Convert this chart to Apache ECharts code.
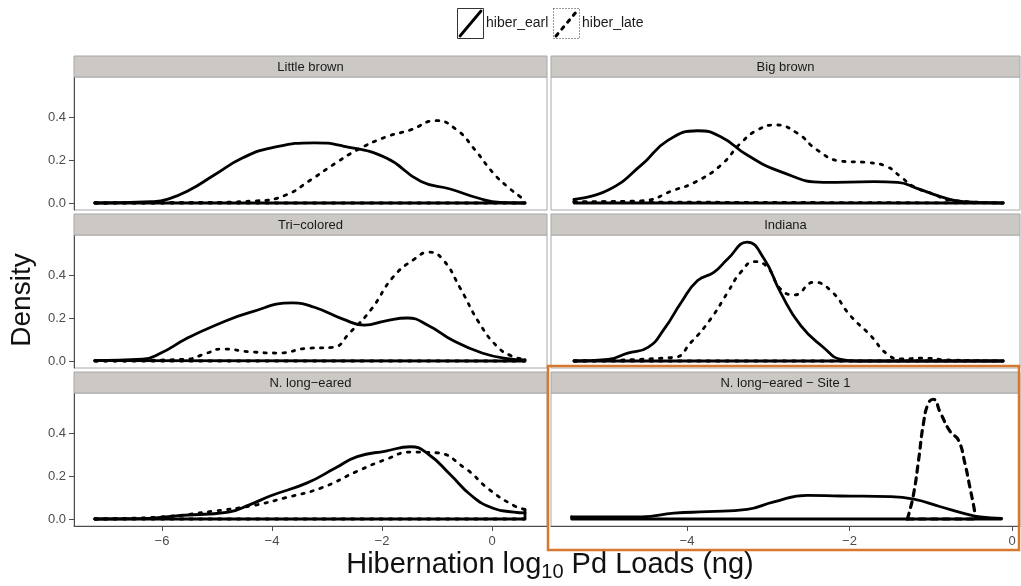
<!DOCTYPE html>
<html>
<head>
<meta charset="utf-8">
<script src="https://cdn.jsdelivr.net/npm/echarts@6/dist/echarts.min.js"></script>
<style>
  html, body { margin: 0; padding: 0; background: #fff; }
  #chart { width: 1021px; height: 586px; }
</style>
</head>
<body>
<div id="chart"></div>
<script>
// Density estimates of hibernation log10 Pd loads, early vs late hibernation, per species panel.

// Little brown
const lbEarlyX = [-7.22, -6.2, -5.89, -5.5, -5.05, -4.53, -4.01, -3.23, -2.71, -1.93, -1.29, -0.76, -0.24, 0.15, 0.6];
const lbEarlyY = [0.0, 0.006, 0.018, 0.06, 0.13, 0.21, 0.256, 0.28, 0.265, 0.21, 0.10, 0.065, 0.022, 0.003, 0.0];
const lbLateX = [-7.22, -5.5, -4.27, -3.75, -3.3, -2.84, -2.45, -1.93, -1.48, -1.02, -0.64, -0.31, 0.02, 0.28, 0.51, 0.6];
const lbLateY = [0.0, 0.002, 0.01, 0.037, 0.107, 0.186, 0.247, 0.307, 0.34, 0.383, 0.34, 0.247, 0.14, 0.076, 0.03, 0.012];

// Big brown
const bbEarlyX = [-5.39, -4.97, -4.56, -4.24, -3.87, -3.58, -3.26, -2.85, -2.32, -1.70, -1.41, -1.17, -0.88, -0.6, -0.11];
const bbEarlyY = [0.017, 0.06, 0.177, 0.29, 0.336, 0.307, 0.223, 0.146, 0.096, 0.099, 0.096, 0.068, 0.03, 0.006, 0.0];
const bbLateX = [-5.39, -4.56, -4.16, -3.89, -3.58, -3.34, -3.13, -2.91, -2.64, -2.40, -2.11, -1.78, -1.54, -1.37, -1.21, -0.97, -0.76, -0.11];
const bbLateY = [0.005, 0.01, 0.06, 0.099, 0.177, 0.278, 0.34, 0.363, 0.324, 0.247, 0.195, 0.188, 0.169, 0.122, 0.076, 0.042, 0.013, 0.0];

// Tri-colored
const tcEarlyX = [-7.22, -6.35, -6.02, -5.57, -5.05, -4.4, -3.62, -3.23, -2.71, -2.32, -1.93, -1.54, -1.15, -0.7, -0.18, 0.28, 0.6];
const tcEarlyY = [0.002, 0.008, 0.037, 0.102, 0.164, 0.226, 0.27, 0.25, 0.195, 0.167, 0.187, 0.2, 0.164, 0.094, 0.037, 0.011, 0.005];
const tcLateX = [-7.22, -5.57, -5.18, -4.92, -4.4, -3.88, -3.36, -2.9, -2.58, -2.19, -1.8, -1.41, -1.15, -0.9, -0.57, -0.24, 0.08, 0.34, 0.6];
const tcLateY = [0.0, 0.008, 0.037, 0.056, 0.043, 0.037, 0.059, 0.063, 0.133, 0.242, 0.39, 0.474, 0.506, 0.474, 0.335, 0.18, 0.071, 0.025, 0.008];

// Indiana
const inEarlyX = [-5.39, -4.97, -4.73, -4.48, -4.28, -4.07, -3.87, -3.67, -3.5, -3.26, -3.05, -2.85, -2.6, -2.32, -2.11, -1.91, -0.11];
const inEarlyY = [0.0, 0.008, 0.037, 0.063, 0.149, 0.273, 0.374, 0.412, 0.474, 0.553, 0.474, 0.319, 0.164, 0.063, 0.008, 0.0, 0.0];
const inLateX = [-5.39, -4.16, -3.95, -3.71, -3.5, -3.34, -3.17, -3.01, -2.85, -2.68, -2.44, -2.23, -1.99, -1.74, -1.54, -1.37, -1.09, -0.8, -0.11];
const inLateY = [0.0, 0.017, 0.087, 0.195, 0.319, 0.412, 0.462, 0.436, 0.335, 0.307, 0.366, 0.327, 0.211, 0.118, 0.033, 0.01, 0.013, 0.005, 0.0];

// N. long-eared
const nlEarlyX = [-7.22, -6.35, -5.7, -4.79, -4.4, -4.01, -3.36, -2.84, -2.45, -1.93, -1.48, -1.15, -0.76, -0.37, 0.02, 0.4, 0.6];
const nlEarlyY = [0.0, 0.002, 0.016, 0.032, 0.067, 0.109, 0.168, 0.238, 0.29, 0.316, 0.336, 0.3, 0.207, 0.108, 0.05, 0.032, 0.028];
const nlLateX = [-7.22, -6.0, -5.05, -4.4, -3.75, -3.1, -2.45, -1.93, -1.48, -1.02, -0.5, -0.05, 0.4, 0.6];
const nlLateY = [0.0, 0.01, 0.037, 0.06, 0.099, 0.145, 0.222, 0.277, 0.311, 0.308, 0.238, 0.137, 0.062, 0.045];

// N. long-eared - Site 1
const s1EarlyX = [-5.42, -4.56, -4.16, -3.75, -3.26, -2.93, -2.52, -2.11, -1.5, -1.21, -0.88, -0.56, -0.39, -0.13];
const s1EarlyY = [0.01, 0.01, 0.027, 0.034, 0.045, 0.08, 0.11, 0.107, 0.104, 0.092, 0.057, 0.023, 0.01, 0.003];
const s1LateX = [-1.29, -1.27, -1.21, -1.15, -1.09, -1.03, -0.97, -0.88, -0.76, -0.66, -0.58, -0.52, -0.47, -0.45];
const s1LateY = [0.0, 0.023, 0.12, 0.274, 0.445, 0.538, 0.557, 0.492, 0.406, 0.367, 0.259, 0.15, 0.057, 0.01];

// Axis ticks
const yTicks = [0, 0.2, 0.4];
const xTicksLeft = [-6, -4, -2, 0];
const xTicksRight = [-4, -2, 0];

const panels = [
  { title: 'Little brown', row: 0, col: 0, early: [lbEarlyX, lbEarlyY], late: [lbLateX, lbLateY] },
  { title: 'Big brown', row: 0, col: 1, early: [bbEarlyX, bbEarlyY], late: [bbLateX, bbLateY] },
  { title: 'Tri\u2212colored', row: 1, col: 0, early: [tcEarlyX, tcEarlyY], late: [tcLateX, tcLateY] },
  { title: 'Indiana', row: 1, col: 1, early: [inEarlyX, inEarlyY], late: [inLateX, inLateY] },
  { title: 'N. long\u2212eared', row: 2, col: 0, early: [nlEarlyX, nlEarlyY], late: [nlLateX, nlLateY] },
  { title: 'N. long\u2212eared \u2212 Site 1', row: 2, col: 1, early: [s1EarlyX, s1EarlyY], late: [s1LateX, s1LateY], wideDash: true }
];

// Layout
const FONT = '"Liberation Sans", Arial, sans-serif';
const colLeft = [74, 551];
const colWidth = [473, 469];
const colRange = [[-7.6, 1.0], [-5.674, 0.098]];
const rowTop = [77, 235, 393];
const panelH = 133;
const stripH = 21;
const yRange = [-0.0326, 0.586];

const grids = [], xAxes = [], yAxes = [], series = [], graphics = [];
const minus = v => String(v).replace('-', '\u2212');

panels.forEach((p, i) => {
  const left = colLeft[p.col], top = rowTop[p.row], width = colWidth[p.col];
  const bottomRow = p.row === 2, leftCol = p.col === 0;
  grids.push({ left, top, width, height: panelH, show: true, borderColor: '#a8a8a8', borderWidth: 1, backgroundColor: '#fff', containLabel: false });
  xAxes.push({
    type: 'value', gridIndex: i, min: colRange[p.col][0], max: colRange[p.col][1],
    splitLine: { show: false },
    axisLine: { show: bottomRow, onZero: false, lineStyle: { color: '#4d4d4d', width: 1 } },
    axisTick: { show: bottomRow, length: 5, lineStyle: { color: '#4d4d4d' }, customValues: leftCol ? xTicksLeft : xTicksRight },
    axisLabel: { show: bottomRow, margin: 9, color: '#4d4d4d', fontSize: 13, fontFamily: FONT,
      customValues: leftCol ? xTicksLeft : xTicksRight, formatter: v => minus(v) }
  });
  yAxes.push({
    type: 'value', gridIndex: i, min: yRange[0], max: yRange[1],
    splitLine: { show: false },
    axisLine: { show: leftCol, onZero: false, lineStyle: { color: '#4d4d4d', width: 1 } },
    axisTick: { show: leftCol, length: 5, lineStyle: { color: '#4d4d4d' }, customValues: yTicks },
    axisLabel: { show: leftCol, margin: 8, color: '#4d4d4d', fontSize: 13, fontFamily: FONT,
      customValues: yTicks, formatter: v => v.toFixed(1) }
  });

  const groups = [
    { name: 'hiber_earl', d: p.early, style: { color: '#000', width: 2.8, type: 'solid', cap: 'round', join: 'round' } },
    { name: 'hiber_late', d: p.late, style: { color: '#000', width: p.wideDash ? 3.2 : 2.8,
      type: p.wideDash ? [6, 6] : [2.5, 7], cap: 'round', join: 'round' } }
  ];
  groups.forEach(g => {
    const xs = g.d[0], ys = g.d[1];
    const n = xs.length;
    series.push({
      type: 'line', name: g.name, xAxisIndex: i, yAxisIndex: i,
      data: xs.map((x, k) => [x, ys[k]]),
      smooth: 0.5, showSymbol: false, symbol: 'none',
      lineStyle: g.style, silent: true, animation: false, z: 3
    });
    // closing edges of the density polygon: ends dropped to zero and the baseline
    series.push({
      type: 'line', name: g.name, xAxisIndex: i, yAxisIndex: i,
      data: [[xs[0], ys[0]], [xs[0], 0], [xs[n - 1], 0], [xs[n - 1], ys[n - 1]]],
      smooth: false, showSymbol: false, symbol: 'none',
      lineStyle: g.style, silent: true, animation: false, z: 3
    });
  });

  // facet strip
  graphics.push({
    type: 'rect', shape: { x: left, y: top - stripH, width, height: stripH },
    style: { fill: '#ccc9c5', stroke: '#a8a8a8', lineWidth: 1 }, z: 5
  });
  graphics.push({
    type: 'text', x: left + width / 2, y: top - stripH / 2 + 0.5,
    style: { text: p.title, fill: '#1a1a1a', font: '13px ' + FONT, textAlign: 'center', textVerticalAlign: 'middle' }, z: 6
  });
});

// legend keys
graphics.push(
  { type: 'rect', shape: { x: 457.5, y: 8.5, width: 26, height: 30 }, style: { fill: '#fff', stroke: '#333', lineWidth: 1 }, z: 6 },
  { type: 'line', shape: { x1: 460, y1: 36, x2: 481, y2: 11 }, style: { stroke: '#000', lineWidth: 2.8, lineCap: 'round' }, z: 7 },
  { type: 'text', x: 486, y: 23, style: { text: 'hiber_earl', fill: '#1a1a1a', font: '14px ' + FONT, textAlign: 'left', textVerticalAlign: 'middle' }, z: 7 },
  { type: 'rect', shape: { x: 553.5, y: 8.5, width: 26, height: 30 }, style: { fill: '#fff', stroke: '#333', lineWidth: 1, lineDash: [1, 2] }, z: 6 },
  { type: 'line', shape: { x1: 556, y1: 36, x2: 577, y2: 11 }, style: { stroke: '#000', lineWidth: 3, lineCap: 'round', lineDash: [3, 6] }, z: 7 },
  { type: 'text', x: 582, y: 23, style: { text: 'hiber_late', fill: '#1a1a1a', font: '14px ' + FONT, textAlign: 'left', textVerticalAlign: 'middle' }, z: 7 }
);

// axis titles
graphics.push(
  { type: 'text', x: 22, y: 300, rotation: Math.PI / 2,
    style: { text: 'Density', fill: '#111', font: '28px ' + FONT, textAlign: 'center', textVerticalAlign: 'middle' }, z: 7 },
  { type: 'text', x: 550, y: 565,
    style: {
      text: '{a|Hibernation log}{s|10}{a| Pd Loads (ng)}',
      textAlign: 'center', textVerticalAlign: 'middle',
      rich: {
        a: { fontSize: 29, fontFamily: FONT, fill: '#111', color: '#111', lineHeight: 32 },
        s: { fontSize: 20, fontFamily: FONT, fill: '#111', color: '#111', lineHeight: 32, padding: [14, 0, 0, 0] }
      }
    }, z: 7 }
);

// highlighted panel outline
graphics.push({
  type: 'rect', shape: { x: 548, y: 366, width: 471, height: 184 },
  style: { fill: 'none', stroke: '#d8782f', lineWidth: 2.5 }, z: 10
});

const chart = echarts.init(document.getElementById('chart'), null, { renderer: 'canvas' });
chart.setOption({
  animation: false,
  backgroundColor: '#fff',
  grid: grids,
  xAxis: xAxes,
  yAxis: yAxes,
  series: series,
  graphic: { elements: graphics }
});
</script>
</body>
</html>
